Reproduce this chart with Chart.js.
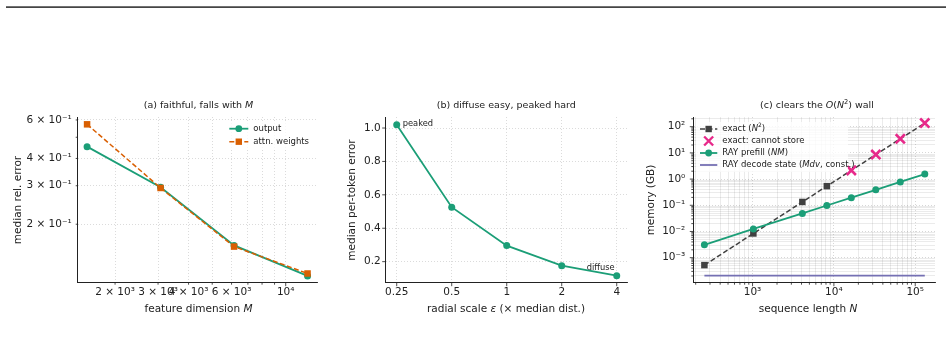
<!DOCTYPE html>
<html><head><meta charset="utf-8">
<script src="https://cdn.jsdelivr.net/npm/chart.js@4.4.1/dist/chart.umd.min.js"></script>
<style>
html,body{margin:0;padding:0;background:#fff;width:948px;height:353px;overflow:hidden;}
canvas{position:absolute;left:0;top:0;}
#rule{position:absolute;left:6px;top:6px;width:940px;height:2px;background:linear-gradient(#8a8a8a,#2e2e2e);}
</style></head><body>
<div id="rule"></div>
<canvas id="ca" width="948" height="353"></canvas>
<canvas id="cb" width="948" height="353"></canvas>
<canvas id="cc" width="948" height="353"></canvas>
<script>
// ---------- Panel (a): faithful, falls with M ----------
const featureDim = [1536, 3072, 6144, 12288];
const outputRelErr = [0.453, 0.295, 0.160, 0.116];
const attnRelErr = [0.573, 0.293, 0.158, 0.119];
const aXTickVals = [2000, 3000, 4000, 6000, 10000];
const aXTickLabels = ['2 × 10³', '3 × 10³', '4 × 10³', '6 × 10³', '10⁴'];
const aXMinorVals = [5000, 7000, 8000, 9000];
const aYTickVals = [0.2, 0.3, 0.4, 0.6];
const aYTickLabels = ['2 × 10⁻¹', '3 × 10⁻¹', '4 × 10⁻¹', '6 × 10⁻¹'];
const aYMinorVals = [0.5];

// ---------- Panel (b): diffuse easy, peaked hard ----------
const radialScale = [0.25, 0.5, 1, 2, 4];
const perTokenErr = [1.02, 0.526, 0.296, 0.176, 0.116];
const bXTickLabels = ['0.25', '0.5', '1', '2', '4'];
const bYTickVals = [0.2, 0.4, 0.6, 0.8, 1.0];
const bYTickLabels = ['0.2', '0.4', '0.6', '0.8', '1.0'];

// ---------- Panel (c): clears the O(N^2) wall ----------
const seqLen = [256, 1024, 4096, 8192, 16384, 32768, 65536, 131072];
const exactMemGB = [5.2e-4, 8.4e-3, 0.134, 0.537, 2.15, 8.59, 34.4, 137];
const exactStorable = [true, true, true, true, false, false, false, false];
const rayPrefillGB = [3.1e-3, 0.0125, 0.049, 0.098, 0.195, 0.39, 0.78, 1.56];
const rayDecodeGB = [2.06e-4, 2.06e-4, 2.06e-4, 2.06e-4, 2.06e-4, 2.06e-4, 2.06e-4, 2.06e-4];
const cXTickVals = [1e3, 1e4, 1e5];
const cXTickLabels = ['10³', '10⁴', '10⁵'];
const cYTickVals = [1e-3, 1e-2, 1e-1, 1, 10, 100];
const cYTickLabels = ['10⁻³', '10⁻²', '10⁻¹', '10⁰', '10¹', '10²'];

const GREEN = '#1b9e77', ORANGE = '#d95f02', PINK = '#e7298a', PURPLE = '#7570b3', DARK = '#404040';
const FONT = '"DejaVu Sans", sans-serif';
const INK = '#222';
Chart.defaults.font.family = FONT;

function near(a, b) { return Math.abs(a - b) <= 1e-9 * Math.max(Math.abs(a), Math.abs(b)); }
function logMinors(lo, hi) {
  const out = [];
  for (let k = -6; k <= 6; k++) for (let m = 2; m <= 9; m++) { const v = m * Math.pow(10, k); if (v >= lo && v <= hi) out.push(v); }
  return out;
}

function makeScale(cfg) {
  const all = [...cfg.major, ...(cfg.minor || [])].sort((a, b) => a - b);
  const labelOf = v => { const i = cfg.major.findIndex(m => near(m, v)); return i >= 0 ? cfg.labels[i] : ''; };
  const isGridMajor = v => (cfg.gridMajor || cfg.major).some(m => near(m, v));
  return {
    type: cfg.type, min: cfg.min, max: cfg.max, bounds: 'data',
    afterBuildTicks: s => { s.ticks = all.map(v => ({ value: v })); },
    afterFit: s => {
      if (cfg.axis === 'x') s.height = cfg.fixed; else s.width = cfg.fixed;
      s.paddingLeft = 0; s.paddingRight = 0; s.paddingTop = 0; s.paddingBottom = 0;
    },
    grid: {
      drawTicks: false, lineWidth: 0.8,
      color: c => { if (!c.tick) return 'rgba(0,0,0,0)'; return isGridMajor(c.tick.value) ? cfg.gridColor : cfg.gridMinorColor; }
    },
    border: {
      display: true, color: INK, width: 1,
      dash: c => { if (!c.tick) return []; return isGridMajor(c.tick.value) ? [1, 2] : (cfg.minorDash || [1, 2]); }
    },
    ticks: {
      autoSkip: false, maxRotation: 0, minRotation: 0, padding: cfg.padding, color: INK,
      font: { family: FONT, size: 10.5 },
      callback: v => labelOf(v)
    }
  };
}

function segFont(s, size) { const sz = (s.sup || s.sub) ? size * 0.7 : size; return (s.i ? 'italic ' : '') + sz + 'px ' + FONT; }
function drawRich(ctx, segs, x, y, size, align, rot, color) {
  ctx.save(); ctx.translate(x, y); if (rot) ctx.rotate(rot);
  let w = 0; for (const s of segs) { ctx.font = segFont(s, size); w += ctx.measureText(s.t).width; }
  let cx = align === 'center' ? -w / 2 : align === 'right' ? -w : 0;
  ctx.textBaseline = 'middle'; ctx.textAlign = 'left'; ctx.fillStyle = color || INK;
  for (const s of segs) {
    ctx.font = segFont(s, size);
    const dy = s.sup ? -size * 0.38 : s.sub ? size * 0.22 : 0;
    ctx.fillText(s.t, cx, dy); cx += ctx.measureText(s.t).width;
  }
  ctx.restore();
}
function drawTicks(chart, longX, longY) {
  const ctx = chart.ctx, ca = chart.chartArea;
  ctx.save(); ctx.strokeStyle = INK; ctx.lineWidth = 0.8;
  const sx = chart.scales.x, sy = chart.scales.y;
  for (const t of sx.ticks) {
    const p = sx.getPixelForValue(t.value); const L = longX.some(v => near(v, t.value)) ? 3.5 : 2;
    ctx.beginPath(); ctx.moveTo(p, ca.bottom); ctx.lineTo(p, ca.bottom + L); ctx.stroke();
  }
  for (const t of sy.ticks) {
    const p = sy.getPixelForValue(t.value); const L = longY.some(v => near(v, t.value)) ? 3.5 : 2;
    ctx.beginPath(); ctx.moveTo(ca.left, p); ctx.lineTo(ca.left - L, p); ctx.stroke();
  }
  ctx.restore();
}
function marker(ctx, kind, x, y, color) {
  ctx.save(); ctx.fillStyle = color; ctx.strokeStyle = color;
  if (kind === 'circle') { ctx.beginPath(); ctx.arc(x, y, 3.4, 0, Math.PI * 2); ctx.fill(); }
  else if (kind === 'rect') { ctx.fillRect(x - 3.2, y - 3.2, 6.4, 6.4); }
  else if (kind === 'x') { ctx.lineWidth = 2.4; ctx.beginPath(); ctx.moveTo(x - 4.5, y - 4.5); ctx.lineTo(x + 4.5, y + 4.5); ctx.moveTo(x + 4.5, y - 4.5); ctx.lineTo(x - 4.5, y + 4.5); ctx.stroke(); }
  ctx.restore();
}
function legendRow(ctx, x0, x1, y, color, dash, lw, mk, segs, size) {
  ctx.save();
  if (lw) { ctx.strokeStyle = color; ctx.lineWidth = lw; ctx.setLineDash(dash || []); ctx.beginPath(); ctx.moveTo(x0, y); ctx.lineTo(x1, y); ctx.stroke(); }
  ctx.restore();
  if (mk) marker(ctx, mk, (x0 + x1) / 2, y, mk === 'x' ? PINK : color);
  drawRich(ctx, segs, x1 + 5, y, size, 'left');
}

const common = (pad) => ({
  animation: false, responsive: false, devicePixelRatio: 1,
  layout: { padding: pad },
  plugins: { legend: { display: false }, tooltip: { enabled: false }, title: { display: false } },
  events: []
});

// ---------- Chart A ----------
new Chart(document.getElementById('ca'), {
  type: 'line',
  data: { datasets: [
    { label: 'output', data: featureDim.map((x, i) => ({ x, y: outputRelErr[i] })), borderColor: GREEN, backgroundColor: GREEN,
      borderWidth: 1.8, pointStyle: 'circle', pointRadius: 3.5, pointBorderWidth: 0, order: 2, clip: false },
    { label: 'attn. weights', data: featureDim.map((x, i) => ({ x, y: attnRelErr[i] })), borderColor: ORANGE, backgroundColor: ORANGE,
      borderWidth: 1.5, borderDash: [5, 2.5], pointStyle: 'rect', pointRadius: 4.6, pointBorderWidth: 0, order: 1, clip: false }
  ] },
  options: Object.assign(common({ left: 7.7, right: 630, top: 117, bottom: 30.3 }), {
    scales: {
      x: makeScale({ axis: 'x', type: 'logarithmic', min: 1406, max: 13560, major: aXTickVals, labels: aXTickLabels, minor: aXMinorVals,
        fixed: 40, padding: 3.5, gridColor: 'rgba(0,0,0,0.18)', gridMinorColor: 'rgba(0,0,0,0.18)' }),
      y: makeScale({ axis: 'y', type: 'logarithmic', min: 0.108, max: 0.619, major: aYTickVals, labels: aYTickLabels, minor: aYMinorVals,
        fixed: 70, padding: 6, gridColor: 'rgba(0,0,0,0.18)', gridMinorColor: 'rgba(0,0,0,0.0)' })
    }
  }),
  plugins: [{ id: 'ovA', afterDraw(chart) {
    const ctx = chart.ctx;
    drawTicks(chart, [10000], []);
    drawRich(ctx, [{ t: '(a) faithful, falls with ' }, { t: 'M', i: true }], 198.5, 105.7, 9.5, 'center');
    drawRich(ctx, [{ t: 'feature dimension ' }, { t: 'M', i: true }], 198.5, 309, 10.5, 'center');
    drawRich(ctx, [{ t: 'median rel. error' }], 18.3, 200, 10.5, 'center', -Math.PI / 2);
    ctx.save(); ctx.fillStyle = 'rgba(255,255,255,0.8)'; ctx.fillRect(225, 121, 92, 28); ctx.restore();
    legendRow(ctx, 229.3, 248.3, 128.7, GREEN, [], 1.8, 'circle', [{ t: 'output' }], 8.5);
    legendRow(ctx, 229.3, 248.3, 141.7, ORANGE, [5, 2.5], 1.5, 'rect', [{ t: 'attn. weights' }], 8.5);
  } }]
});

// ---------- Chart B ----------
new Chart(document.getElementById('cb'), {
  type: 'line',
  data: { datasets: [
    { label: 'median per-token error', data: radialScale.map((x, i) => ({ x, y: perTokenErr[i] })), borderColor: GREEN, backgroundColor: GREEN,
      borderWidth: 1.8, pointStyle: 'circle', pointRadius: 3.5, pointBorderWidth: 0, clip: false }
  ] },
  options: Object.assign(common({ left: 315.7, right: 320.7, top: 117, bottom: 30.3 }), {
    scales: {
      x: makeScale({ axis: 'x', type: 'logarithmic', min: 0.2176, max: 4.57, major: radialScale, labels: bXTickLabels,
        fixed: 40, padding: 3.5, gridColor: 'rgba(0,0,0,0.18)', gridMinorColor: 'rgba(0,0,0,0.18)' }),
      y: makeScale({ axis: 'y', type: 'linear', min: 0.074, max: 1.066, major: bYTickVals, labels: bYTickLabels,
        fixed: 70, padding: 5, gridColor: 'rgba(0,0,0,0.18)', gridMinorColor: 'rgba(0,0,0,0.18)' })
    }
  }),
  plugins: [{ id: 'ovB', afterDraw(chart) {
    const ctx = chart.ctx;
    drawTicks(chart, radialScale, bYTickVals);
    drawRich(ctx, [{ t: '(b) diffuse easy, peaked hard' }], 506.3, 105.7, 9.5, 'center');
    drawRich(ctx, [{ t: 'radial scale ' }, { t: 'ε', i: true }, { t: ' (× median dist.)' }], 506, 309, 10.5, 'center');
    drawRich(ctx, [{ t: 'median per-token error' }], 352.3, 200, 10.5, 'center', -Math.PI / 2);
    const sx = chart.scales.x, sy = chart.scales.y;
    drawRich(ctx, [{ t: 'peaked' }], sx.getPixelForValue(radialScale[0]) + 6, sy.getPixelForValue(perTokenErr[0]) - 0.5, 8.3, 'left');
    const last = radialScale.length - 1;
    drawRich(ctx, [{ t: 'diffuse' }], sx.getPixelForValue(radialScale[last]) - 2, sy.getPixelForValue(perTokenErr[last]) - 8, 8.3, 'right');
  } }]
});

// ---------- Chart C ----------
const cannotIdx = exactStorable.map((s, i) => s ? -1 : i).filter(i => i >= 0);
new Chart(document.getElementById('cc'), {
  type: 'line',
  data: { datasets: [
    { label: 'exact (N²)', data: seqLen.map((x, i) => ({ x, y: exactMemGB[i] })), borderColor: DARK, backgroundColor: DARK,
      borderWidth: 1.5, borderDash: [5, 2.5], pointStyle: 'rect', pointRadius: c => exactStorable[c.dataIndex] ? 4.6 : 0, pointBorderWidth: 0, order: 4, clip: false },
    { label: 'exact: cannot store', data: cannotIdx.map(i => ({ x: seqLen[i], y: exactMemGB[i] })), showLine: false, borderColor: PINK, backgroundColor: PINK,
      pointStyle: 'crossRot', pointRadius: 6.5, pointBorderWidth: 2.6, order: 3, clip: false },
    { label: 'RAY prefill (NM)', data: seqLen.map((x, i) => ({ x, y: rayPrefillGB[i] })), borderColor: GREEN, backgroundColor: GREEN,
      borderWidth: 1.8, pointStyle: 'circle', pointRadius: 3.5, pointBorderWidth: 0, order: 2, clip: false },
    { label: 'RAY decode state (Mdv, const.)', data: seqLen.map((x, i) => ({ x, y: rayDecodeGB[i] })), borderColor: PURPLE, backgroundColor: PURPLE,
      borderWidth: 1.8, pointRadius: 0, order: 1, clip: false }
  ] },
  options: Object.assign(common({ left: 623.3, right: 13, top: 117, bottom: 30.3 }), {
    scales: {
      x: makeScale({ axis: 'x', type: 'logarithmic', min: 187, max: 1.75e5, major: cXTickVals, labels: cXTickLabels, minor: logMinors(187, 1.75e5),
        fixed: 40, padding: 3.5, gridColor: 'rgba(0,0,0,0.2)', gridMinorColor: 'rgba(0,0,0,0.1)', minorDash: [] }),
      y: makeScale({ axis: 'y', type: 'logarithmic', min: 1.11e-4, max: 234, major: cYTickVals, labels: cYTickLabels, minor: logMinors(1.11e-4, 234),
        fixed: 70, padding: 8, gridColor: 'rgba(0,0,0,0.2)', gridMinorColor: 'rgba(0,0,0,0.1)', minorDash: [] })
    }
  }),
  plugins: [{ id: 'ovC', afterDraw(chart) {
    const ctx = chart.ctx;
    drawTicks(chart, cXTickVals, cYTickVals);
    drawRich(ctx, [{ t: '(c) clears the ' }, { t: 'O', i: true }, { t: '(' }, { t: 'N', i: true }, { t: '2', sup: true }, { t: ') wall' }], 817, 105.7, 9.5, 'center');
    drawRich(ctx, [{ t: 'sequence length ' }, { t: 'N', i: true }], 808, 309, 10.5, 'center');
    drawRich(ctx, [{ t: 'memory (GB)' }], 651.7, 200, 10.5, 'center', -Math.PI / 2);
    ctx.save(); ctx.fillStyle = 'rgba(255,255,255,0.8)'; ctx.fillRect(696, 122, 152, 50); ctx.restore();
    legendRow(ctx, 700, 717.3, 129, DARK, [5, 2.5], 1.5, 'rect', [{ t: 'exact (' }, { t: 'N', i: true }, { t: '2', sup: true }, { t: ')' }], 8.5);
    legendRow(ctx, 700, 717.3, 141, PINK, [], 0, 'x', [{ t: 'exact: cannot store' }], 8.5);
    legendRow(ctx, 700, 717.3, 153, GREEN, [], 1.8, 'circle', [{ t: 'RAY prefill (' }, { t: 'NM', i: true }, { t: ')' }], 8.5);
    legendRow(ctx, 700, 717.3, 165, PURPLE, [], 1.8, null, [{ t: 'RAY decode state (' }, { t: 'Mdv', i: true }, { t: ', const.)' }], 8.5);
  } }]
});
</script></body></html>
